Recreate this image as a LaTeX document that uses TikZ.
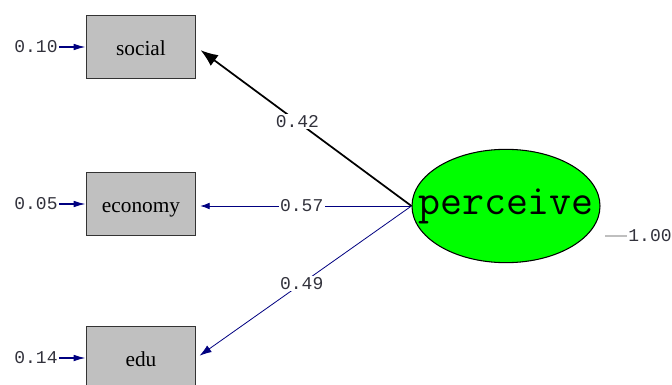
\documentclass[tikz,border=0pt]{standalone}
\usepackage{fontspec}
\newfontfamily\monofnt{Liberation Mono}
\newfontfamily\serfnt{Liberation Serif}
\usetikzlibrary{arrows.meta, shapes.geometric}
\definecolor{boxgray}{RGB}{192,192,192}
\definecolor{pathblue}{RGB}{0,0,128}
\definecolor{numgray}{RGB}{50,50,60}
\newcommand\bx{141}
\newcommand\ex{36}

\begin{document}
\begin{tikzpicture}[x=0.75pt, y=-0.75pt,
    obs/.style={rectangle, draw=black!80, line width=1pt, fill=boxgray, minimum width=82pt, minimum height=47pt, inner sep=0pt, text height=13pt, text depth=0pt, font=\serfnt\fontsize{16}{16}\selectfont},
    num/.style={inner sep=1pt, text=numgray, font=\monofnt\fontsize{13.5}{13.5}\selectfont},
    lat/.style={ellipse, draw=black, line width=0.8pt, fill=green, minimum width=141pt, minimum height=85pt, inner sep=0pt}]

    \useasboundingbox (0, 0) rectangle (672, 385);
    \clip (0, 0) rectangle (672, 385);

    % Observed variables
    \node at (\bx, 47) [obs] (soc) {social};
    \node at (\bx, 204) [obs] (eco) {economy};
    \node at (\bx, 358) [obs] (edu) {edu};

    % Error variances
    \node at (\ex, 47) [num] (e1) {0.10};
    \node at (\ex, 204) [num] (e2) {0.05};
    \node at (\ex, 358) [num] (e3) {0.14};

    \draw [pathblue, line width=1pt, -{Latex[length=9pt, width=5pt]}] (e1.east) -- (soc.west);
    \draw [pathblue, line width=1pt, -{Latex[length=9pt, width=5pt]}] (e2.east) -- (eco.west);
    \draw [pathblue, line width=1pt, -{Latex[length=9pt, width=5pt]}] (e3.east) -- (edu.west);

    % Latent variable
    \node at (506, 206) [lat] (pv) {};
    \node at (pv) [inner sep=0pt, font=\ttfamily\fontsize{32}{32}\selectfont] (pvtext) {perceive};
    \node at (650, 236) [num] (pvvar) {1.00};
    \coordinate (pvr) at (605, 236);
    \draw [black!25, line width=0.8pt] (pvr) -- (pvvar.west);

    % Loadings
    \draw [black, line width=1.3pt, shorten >=4pt, -{Latex[length=13pt, width=10pt]}] (pv.west) -- (soc.east)
        node [pos=0.53, num, fill=white] {0.42};
    \draw [pathblue, line width=0.6pt, shorten >=3pt, -{Latex[length=7pt, width=5pt]}] (pv.west) -- (pv.west -| eco.east)
        node [pos=0.51, num, fill=white] {0.57};
    \draw [pathblue, line width=0.6pt, shorten >=3pt, -{Latex[length=9pt, width=6pt]}] (pv.west) -- (edu.east)
        node [pos=0.51, num, fill=white] {0.49};

\end{tikzpicture}
\end{document}
